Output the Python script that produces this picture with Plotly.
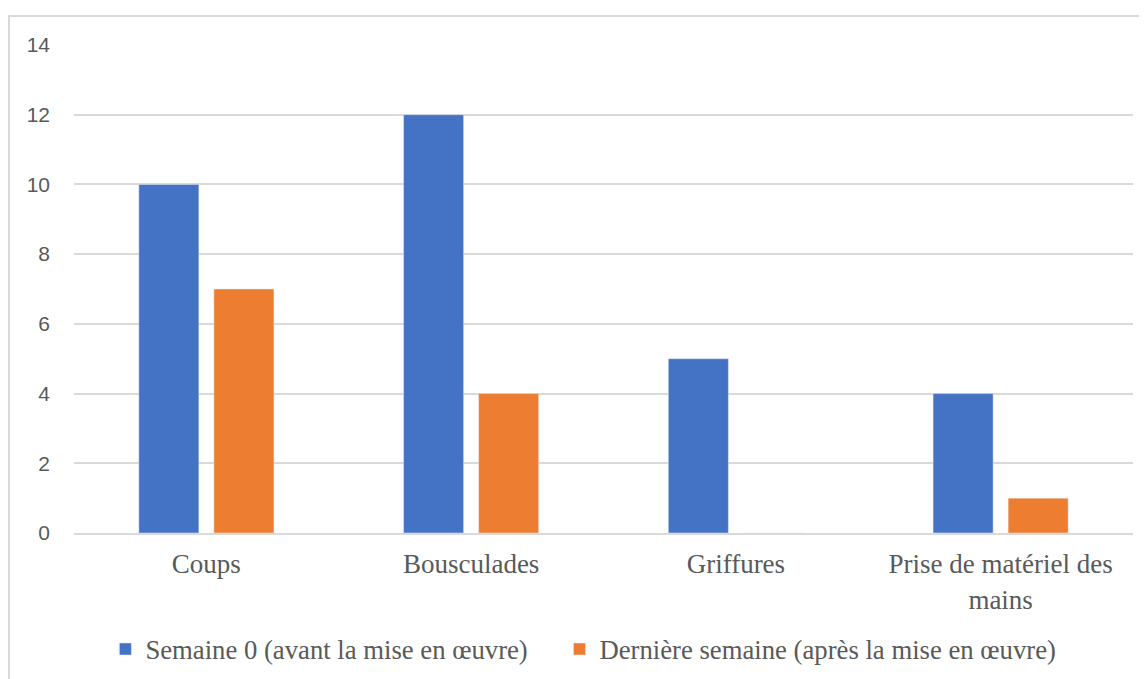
import plotly.graph_objects as go

categories = ["Coups", "Bousculades", "Griffures", "Prise de matériel des<br>mains"]
semaine0 = [10, 12, 5, 4]
derniere = [7, 4, 0, 1]
series_names = ["Semaine 0 (avant la mise en œuvre)", "Dernière semaine (après la mise en œuvre)"]
y_ticks = [0, 2, 4, 6, 8, 10, 12, 14]

serif = "Liberation Serif, Times New Roman, serif"
grey_txt = "#595959"
pad = "\u00a0" * 4  # extra room between the two legend entries

fig = go.Figure()
fig.add_trace(go.Bar(x=categories, y=semaine0, name=series_names[0] + pad, marker_color="#4472C4"))
fig.add_trace(go.Bar(x=categories, y=derniere, name=series_names[1], marker_color="#ED7D31"))

fig.update_layout(
    width=1147, height=679,
    margin=dict(l=66, r=22, t=37, b=154, autoexpand=False),
    paper_bgcolor="white", plot_bgcolor="white",
    barmode="group", bargap=0.433, bargroupgap=0.2,
    showlegend=True,
    legend=dict(orientation="h", x=0.481, xanchor="center", y=-0.238, yanchor="middle",
                font=dict(family=serif, size=26.7, color=grey_txt), itemwidth=30),
    # frame around the chart (cropped on right and bottom in the original)
    shapes=[dict(type="path", xref="paper", yref="paper",
                 path="M -0.0614 -0.4 L -0.0614 1.0594 L 1.05 1.0594",
                 line=dict(color="#d9d9d9", width=2))],
)
fig.update_xaxes(showgrid=False, showline=True, linecolor="#d9d9d9", linewidth=2,
                 tickfont=dict(family=serif, size=27, color=grey_txt), ticks="",
                 ticklabelstandoff=6)
fig.update_yaxes(range=[0, 14], tickvals=y_ticks, showgrid=True, gridcolor="#d9d9d9", gridwidth=2,
                 zeroline=False, showline=False, ticks="", ticklabelstandoff=23,
                 tickfont=dict(family="Liberation Sans, Arial, sans-serif", size=21, color=grey_txt))

fig.write_html("out.html")
